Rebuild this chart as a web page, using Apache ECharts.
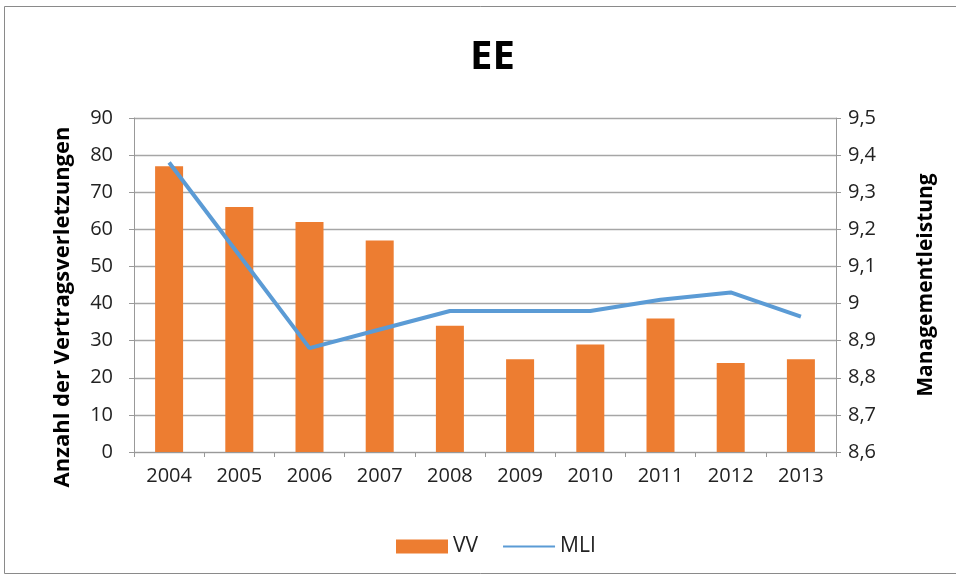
<!DOCTYPE html>
<html><head><meta charset="utf-8">
<script src="https://cdn.jsdelivr.net/npm/echarts@6/dist/echarts.min.js"></script>
<style>html,body{margin:0;padding:0;background:#fff}#c{width:956px;height:579px}</style>
</head><body><div id="c"></div>
<script>
const categories = ['2004','2005','2006','2007','2008','2009','2010','2011','2012','2013'];
const vvValues = [77, 66, 62, 57, 34, 25, 29, 36, 24, 25];
const mliValues = [9.38, 9.13, 8.88, 8.93, 8.98, 8.98, 8.98, 9.01, 9.03, 8.965];
const FONT = '"Open Sans", "Liberation Sans", sans-serif';
const chart = echarts.init(document.getElementById('c'));
chart.setOption({
  animation: false,
  backgroundColor: '#fff',
  title: { text: 'EE', left: 465, top: 33, textStyle: { fontFamily: FONT, fontSize: 40, fontWeight: 'bold', color: '#000' } },
  graphic: [{ type: 'rect', shape: { x: 4.5, y: 6.5, width: 960, height: 567 }, style: { fill: 'none', stroke: '#8a8a8a', lineWidth: 1 } }],
  legend: {
    top: 531, left: 391, itemGap: 24, itemWidth: 52, itemHeight: 14,
    textStyle: { fontFamily: FONT, fontSize: 21, color: '#222' },
    data: [{ name: 'VV', icon: 'rect' }, { name: 'MLI', itemStyle: { opacity: 0 } }]
  },
  grid: { left: 134, right: 120, top: 118, bottom: 127 },
  xAxis: {
    type: 'category', data: categories,
    axisLine: { lineStyle: { color: '#999' } },
    axisTick: { show: true, length: 5, lineStyle: { color: '#999' } },
    axisLabel: { fontFamily: FONT, fontSize: 20, color: '#222', margin: 14 }
  },
  yAxis: [{
    type: 'value', min: 0, max: 90, interval: 10,
    name: 'Anzahl der Vertragsverletzungen', nameLocation: 'middle', nameGap: 60, nameRotate: 90,
    nameTextStyle: { fontFamily: FONT, fontSize: 22, fontWeight: 'bold', color: '#000', padding: [0, 44, 0, 0] },
    axisLine: { show: true, lineStyle: { color: '#999' } },
    axisTick: { show: true, length: 5, lineStyle: { color: '#999' } },
    axisLabel: { fontFamily: FONT, fontSize: 20, color: '#222', margin: 21 },
    splitLine: { lineStyle: { color: '#a6a6a6', width: 1.3 } }
  }, {
    type: 'value', min: 8.6, max: 9.5, interval: 0.1,
    name: 'Managementleistung', nameLocation: 'middle', nameGap: 80, nameRotate: 90,
    nameTextStyle: { fontFamily: FONT, fontSize: 21, fontWeight: 'bold', color: '#000' },
    axisLine: { show: true, lineStyle: { color: '#999' } },
    axisTick: { show: true, length: 5, lineStyle: { color: '#999' } },
    axisLabel: { fontFamily: FONT, fontSize: 20, color: '#222', margin: 12, formatter: v => String(Math.round(v*10)/10).replace('.', ',') },
    splitLine: { show: false }
  }],
  series: [{
    name: 'VV', type: 'bar', data: vvValues, barWidth: 28, itemStyle: { color: '#ed7d31' }
  }, {
    name: 'MLI', type: 'line', yAxisIndex: 1, data: mliValues, symbol: 'none',
    lineStyle: { color: '#5b9bd5', width: 4 }, itemStyle: { color: '#5b9bd5' }
  }]
});
</script></body></html>
